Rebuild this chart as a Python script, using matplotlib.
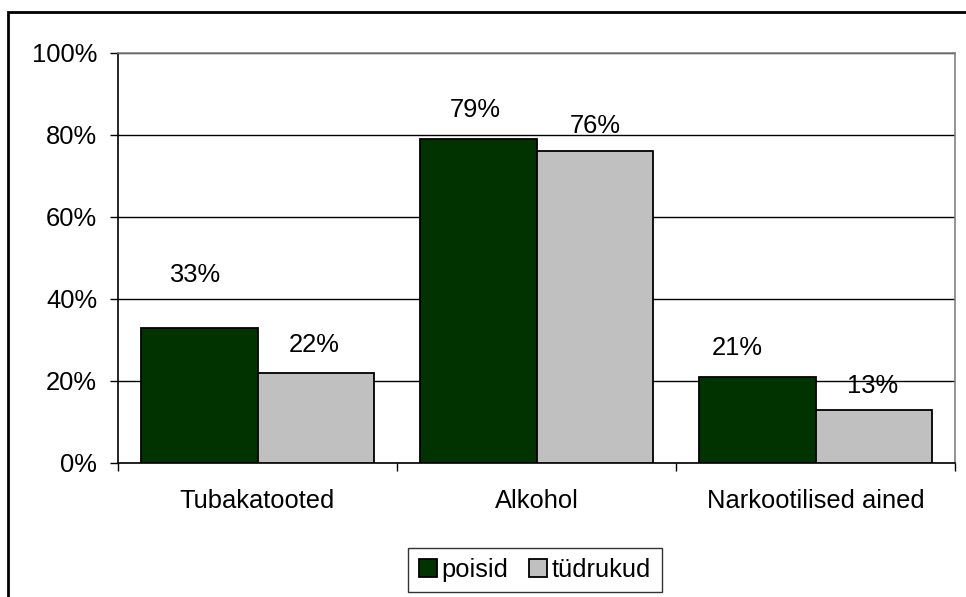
import matplotlib as mpl
mpl.use('Agg')
import matplotlib.pyplot as plt
import matplotlib.patches as mpatches
import numpy as np

categories = ['Tubakatooted', 'Alkohol', 'Narkootilised ained']
poisid = [33, 79, 21]
tudrukud = [22, 76, 13]
series_names = ['poisid', 'tüdrukud']
yticks = [0, 20, 40, 60, 80, 100]

plt.rcParams['font.family'] = ['Liberation Sans', 'DejaVu Sans']
fs = 18.4

fig = plt.figure(figsize=(9.66, 5.97), dpi=100)
ax = fig.add_axes([118/966, 1-463/597, (955-118)/966, (463-53)/597])

x = np.arange(len(categories)) + 0.5
w = 0.418
b1 = ax.bar(x - w/2, poisid, w, color='#003300', edgecolor='black', linewidth=1.3, label=series_names[0], zorder=3)
b2 = ax.bar(x + w/2, tudrukud, w, color='#C0C0C0', edgecolor='black', linewidth=1.3, label=series_names[1], zorder=3)

# value labels, nudged the way they sit in the original
dx1 = [-3, -2, -14]
dy1 = [38, 21, 21]
dx2 = [-1, 0, -1]
dy2 = [20, 18, 17]
for xi, v, ox, oy in zip(x - w/2, poisid, dx1, dy1):
    ax.annotate('%d%%' % v, (xi, v), xytext=(ox, oy), textcoords='offset points',
                ha='center', va='center', fontsize=fs)
for xi, v, ox, oy in zip(x + w/2, tudrukud, dx2, dy2):
    ax.annotate('%d%%' % v, (xi, v), xytext=(ox, oy), textcoords='offset points',
                ha='center', va='center', fontsize=fs)

ax.set_xlim(0, 3)
ax.set_ylim(0, 100)
ax.set_yticks(yticks)
ax.set_yticklabels(['%d%%' % t for t in yticks], fontsize=fs)
ax.yaxis.grid(True, color='black', linewidth=1.0, zorder=0)
ax.set_axisbelow(True)
ax.tick_params(axis='y', direction='out', length=6, width=1, pad=9)

ax.set_xticks(x)
ax.set_xticklabels(categories, fontsize=fs)
ax.set_xticks([0, 1, 2, 3], minor=True)
ax.tick_params(axis='x', which='major', length=0, pad=19)
ax.tick_params(axis='x', which='minor', direction='out', length=6, width=1)

ax.spines['left'].set_color('black')
ax.spines['bottom'].set_color('black')
ax.spines['top'].set_color('#808080')
ax.spines['right'].set_color('#808080')
for s in ax.spines.values():
    s.set_linewidth(1.2)

leg = fig.legend(handles=[b1, b2], labels=series_names, loc='center',
                 bbox_to_anchor=(535/966, 1-570/597), ncol=2, fontsize=fs,
                 frameon=True, fancybox=False, handlelength=0.7, handleheight=0.7,
                 handletextpad=0.2, columnspacing=0.8, borderpad=0.4, borderaxespad=0)
leg.get_frame().set_edgecolor('black')
leg.get_frame().set_linewidth(1.0)

# outer chart border (only left and top visible in the crop)
fig.patches.append(mpatches.Rectangle((8/966, -0.1), 1.2, 1.1 - 12/597,
                                      transform=fig.transFigure, fill=False,
                                      edgecolor='black', linewidth=2))

fig.savefig('out.png', dpi=100)
